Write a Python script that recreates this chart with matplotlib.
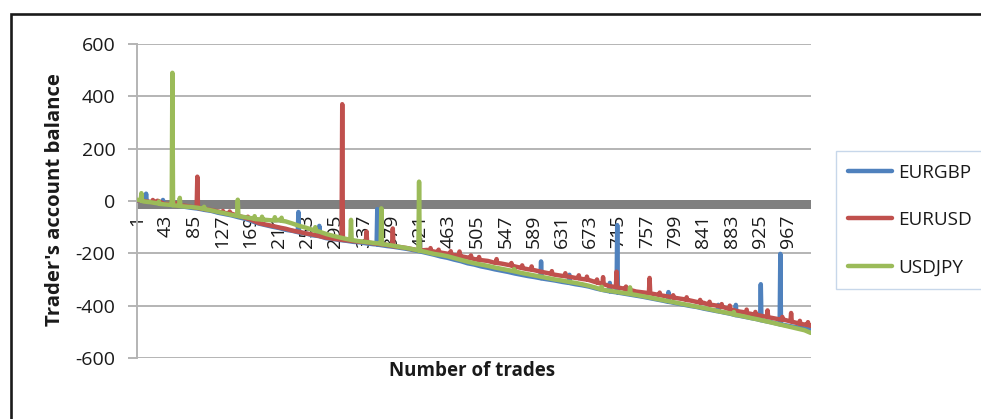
import matplotlib
matplotlib.use("Agg")
import matplotlib.pyplot as plt
from matplotlib.patches import Rectangle

plt.rcParams['font.family'] = ['Open Sans', 'DejaVu Sans']

# ---- data -------------------------------------------------------------
series_names = ["EURGBP", "EURUSD", "USDJPY"]
series_colors = ["#4F81BD", "#C0504D", "#9BBB59"]

# balance sampled every 10 trades (1, 11, ..., 991) plus the last trade
grid_trades = list(range(1, 1000, 10)) + [1000]

eurgbp_balance = [
    2, 0, -5, -8, -12, -16, -18, -22, -26, -29,
    -34, -38, -45, -50, -55, -62, -68, -77, -86, -92,
    -98, -103, -110, -114, -120, -124, -131, -134, -142, -145,
    -149, -152, -156, -158, -162, -165, -168, -172, -175, -179,
    -183, -188, -193, -199, -205, -212, -217, -224, -230, -238,
    -243, -250, -255, -261, -266, -271, -277, -282, -287, -291,
    -296, -300, -304, -309, -313, -318, -322, -327, -334, -340,
    -345, -349, -353, -357, -362, -366, -371, -376, -381, -386,
    -391, -396, -401, -405, -411, -416, -421, -426, -431, -437,
    -442, -447, -452, -458, -463, -469, -474, -479, -483, -487,
    -488,
]
eurusd_balance = [
    3, 0, -4, 1, -11, -13, -17, -18, -22, -26,
    -31, -35, -40, -46, -49, -57, -64, -73, -84, -90,
    -95, -101, -106, -113, -118, -124, -128, -134, -140, -144,
    -147, -150, -153, -156, -160, -162, -165, -168, -172, -176,
    -180, -185, -189, -187, -193, -197, -201, -207, -211, -216,
    -222, -226, -229, -236, -239, -244, -250, -255, -261, -265,
    -271, -276, -282, -286, -289, -294, -298, -302, -310, -317,
    -325, -329, -334, -339, -346, -349, -352, -357, -362, -366,
    -371, -375, -380, -386, -389, -396, -400, -406, -413, -421,
    -425, -431, -436, -441, -446, -451, -454, -460, -467, -472,
    -477,
]
usdjpy_balance = [
    5, -2, -5, -9, -13, -15, -18, -21, -23, -26,
    -31, -36, -42, -47, -53, -57, -62, -66, -70, -72,
    -74, -72, -78, -86, -95, -102, -110, -117, -126, -133,
    -139, -145, -150, -154, -157, -160, -163, -167, -171, -176,
    -180, -185, -190, -196, -202, -206, -211, -218, -225, -232,
    -238, -243, -248, -254, -259, -264, -269, -275, -280, -285,
    -290, -295, -300, -304, -309, -313, -318, -324, -331, -338,
    -343, -347, -351, -355, -359, -364, -369, -374, -379, -384,
    -389, -394, -399, -404, -409, -414, -420, -425, -430, -436,
    -441, -447, -452, -458, -464, -470, -476, -482, -488, -494,
    -504,
]

# single-trade jumps: (trade, balance before, balance at trade, balance after)
eurgbp_spikes = [
    (14, 0, 28, -2), (39, -11, 4, -12), (240, -119, -42, -120),
    (271, -134, -95, -135), (357, -166, -31, -167), (600, -295, -231, -296),
    (642, -313, -282, -314), (702, -345, -313, -346), (713, -349, -92, -350),
    (789, -385, -348, -386), (863, -421, -397, -422), (889, -436, -397, -437),
    (926, -455, -318, -456), (955, -471, -202, -472),
]
eurusd_spikes = [
    (24, -5, 4, -6), (58, -16, -8, -17), (90, -26, 93, -27),
    (128, -44, -38, -45), (138, -47, -40, -48), (165, -67, -60, -68),
    (305, -148, 370, -149), (341, -157, -117, -158), (380, -172, -105, -173),
    (436, -190, -180, -191), (448, -196, -186, -197), (466, -203, -192, -204),
    (479, -208, -193, -209), (496, -218, -208, -219), (508, -225, -214, -226),
    (534, -236, -222, -237), (556, -246, -237, -247), (572, -256, -246, -257),
    (586, -262, -250, -263), (616, -279, -268, -280), (636, -287, -276, -288),
    (656, -295, -284, -296), (668, -300, -289, -301), (683, -311, -300, -312),
    (692, -317, -291, -318), (712, -329, -270, -330), (726, -337, -327, -338),
    (761, -352, -294, -353), (776, -359, -350, -360), (796, -369, -360, -370),
    (816, -378, -368, -379), (836, -388, -378, -389), (850, -396, -385, -396),
    (868, -404, -394, -405), (880, -413, -400, -414), (905, -428, -415, -429),
    (918, -435, -424, -436), (936, -443, -418, -444), (958, -453, -443, -454),
    (971, -460, -428, -461), (984, -469, -458, -470), (996, -474, -463, -475),
]
usdjpy_spikes = [
    (7, 2, 30, 0), (33, -10, -2, -11), (53, -16, 490, -17),
    (64, -19, 12, -20), (100, -30, -22, -31), (150, -57, 5, -58),
    (175, -68, -58, -69), (186, -71, -60, -71), (205, -73, -62, -74),
    (215, -75, -64, -76), (265, -113, -100, -114), (318, -148, -72, -149),
    (363, -164, -28, -165), (419, -189, 74, -190), (560, -268, -260, -269),
    (690, -338, -328, -339), (732, -355, -330, -356), (886, -433, -424, -434),
]

x_tick_trades = list(range(1, 1000, 42))
y_ticks = [-600, -400, -200, 0, 200, 400, 600]


def trade_path(balance, spikes):
    pts = dict(zip(grid_trades, balance))
    for t, before, at, after in spikes:
        pts[t - 1] = before
        pts[t] = at
        pts[t + 1] = after
    xs = sorted(pts)
    return xs, [pts[x] for x in xs]


# ---- figure -----------------------------------------------------------
W, H = 981, 419
fig = plt.figure(figsize=(W / 100, H / 100), dpi=100)
ax = fig.add_axes([137 / W, 1 - 358 / H, 674 / W, 314 / H])

grid_col = "#b4b4b4"
text_col = "#1a1a1a"
ax.set_xlim(0.5, 1000.5)
ax.set_ylim(-600, 600)

# thick horizontal axis line at zero
ax.axhspan(-31, 3, color="#808080", lw=0, zorder=1.5)

lines = []
for name, col, bal, spk in zip(series_names, series_colors,
                               [eurgbp_balance, eurusd_balance, usdjpy_balance],
                               [eurgbp_spikes, eurusd_spikes, usdjpy_spikes]):
    xs, ys = trade_path(bal, spk)
    ln, = ax.plot(xs, ys, color=col, lw=3.2, solid_joinstyle="round",
                  solid_capstyle="round", zorder=3, label=name)
    lines.append(ln)

# y axis
ax.set_yticks(y_ticks)
ax.set_yticklabels([str(v) for v in y_ticks], fontsize=14, color=text_col)
ax.yaxis.grid(True, color=grid_col, lw=1.4, zorder=0)
ax.tick_params(axis="y", length=6.5, width=1.4, color=grid_col, pad=9)
ax.spines["left"].set_color(grid_col)
ax.spines["left"].set_linewidth(1.4)
for s in ("top", "right"):
    ax.spines[s].set_visible(False)

# category axis crossing at zero
ax.spines["bottom"].set_position(("data", 0))
ax.spines["bottom"].set_visible(False)
ax.set_xticks(x_tick_trades)
ax.set_xticklabels([str(t) for t in x_tick_trades], rotation=90,
                   fontsize=14, color=text_col)
ax.tick_params(axis="x", length=0, pad=10)
ax.set_axisbelow(True)

ax.set_ylabel("Trader's account balance", fontsize=14.7, fontweight="bold",
              va="center", color=text_col)
ax.yaxis.set_label_coords((55 - 137) / 674, (358 - 200) / 314)
ax.set_xlabel("Number of trades", fontsize=13.5, fontweight="bold",
              va="center", color=text_col)
ax.xaxis.set_label_coords((472.5 - 137) / 674, (358 - 371) / 314)

leg = fig.legend(handles=lines, labels=series_names, loc="upper left",
                 bbox_to_anchor=(835.5 / W, 1 - 151.5 / H),
                 borderaxespad=0, fontsize=13.6, frameon=True, fancybox=False,
                 handlelength=2.35, handletextpad=0.3, labelspacing=1.55,
                 borderpad=0.65)
leg.get_frame().set_edgecolor("#b9cde5")
leg.get_frame().set_linewidth(1.0)
for t in leg.get_texts():
    t.set_color(text_col)

# outer chart border
fig.add_artist(Rectangle((10.5 / W, -0.05), 1.1, 1 - 14.5 / H + 0.05,
                         transform=fig.transFigure, fill=False,
                         edgecolor="#1a1a1a", lw=1.9))

fig.savefig("out.png", dpi=100)
